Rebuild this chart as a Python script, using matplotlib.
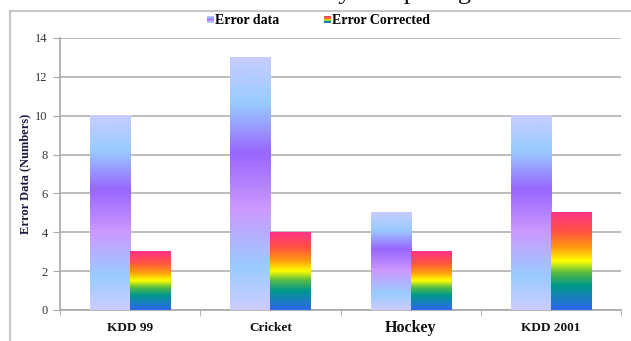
import numpy as np
import matplotlib
matplotlib.use("Agg")
import matplotlib.pyplot as plt
from matplotlib.colors import LinearSegmentedColormap
from matplotlib.legend_handler import HandlerBase
from matplotlib.patches import Rectangle
from matplotlib.lines import Line2D

categories = ["KDD 99", "Cricket", "Hockey", "KDD 2001"]
error_data = [10, 13, 5, 10]
error_corrected = [3, 4, 3, 5]
series_names = ["Error data", "Error Corrected"]
y_ticks = [0, 2, 4, 6, 8, 10, 12, 14]

data_cmap = LinearSegmentedColormap.from_list("data", [
    (0.0, "#ccccff"), (0.17, "#99ccff"), (0.40, "#cc99ff"),
    (0.62, "#9966ff"), (0.82, "#99ccff"), (1.0, "#c8ccff")])
corr_cmap = LinearSegmentedColormap.from_list("corr", [
    (0.0, "#2f66ee"), (0.25, "#00998a"), (0.38, "#55bb44"), (0.5, "#ffff00"),
    (0.64, "#ff9911"), (0.8, "#ff5540"), (1.0, "#ff3388")])

W, H = 631, 341
fig = plt.figure(figsize=(W / 100, H / 100), dpi=100)
ax = fig.add_axes([60 / W, 1 - 310 / H, (621 - 60) / W, (310 - 38) / H])

serif = ["Liberation Serif", "DejaVu Serif"]

x = np.arange(len(categories))
bw = 40 / 140
b1 = ax.bar(x - bw / 2, error_data, bw, color="none", zorder=3)
b2 = ax.bar(x + bw / 2, error_corrected, bw, color="none", zorder=3)

grad = np.linspace(0, 1, 256).reshape(-1, 1)
for bars, cmap in ((b1, data_cmap), (b2, corr_cmap)):
    for p in bars:
        x0, y0 = p.get_x(), p.get_y()
        ax.imshow(grad, cmap=cmap, origin="lower", aspect="auto",
                  extent=(x0, x0 + p.get_width(), y0, y0 + p.get_height()),
                  zorder=3, interpolation="bilinear")

ax.set_xlim(-0.5, len(categories) - 0.5)
ax.set_ylim(0, 14)
ax.set_yticks(y_ticks)
ax.set_yticklabels([str(t) for t in y_ticks], fontfamily=serif, fontsize=9, color="#333333")
ax.yaxis.grid(True, color="#bdbdbd", linewidth=1.4, zorder=0)
ax.set_axisbelow(True)
for s in ["top", "right"]:
    ax.spines[s].set_visible(False)
ax.spines["left"].set_color("#a8a8a8")
ax.spines["bottom"].set_color("#a8a8a8")
ax.spines["left"].set_linewidth(1.2)
ax.spines["bottom"].set_linewidth(1.2)
ax.tick_params(axis="y", length=5, color="#a8a8a8", pad=4)
ax.set_xticks(x)
ax.set_xticklabels([])
ax.tick_params(axis="x", length=0)
ax.set_xticks(np.arange(len(categories) + 1) - 0.5, minor=True)
ax.tick_params(axis="x", which="minor", length=4, color="#a8a8a8")
for i, c in enumerate(categories):
    fs = 11.5 if c == "Hockey" else 9.5
    ax.text(i, -0.95, c, ha="center", va="center", fontfamily=serif,
            fontweight="bold", fontsize=fs, color="#111111",
            transform=ax.transData)

ax.set_ylabel("Error Data (Numbers)", fontfamily=serif, fontweight="bold",
              fontsize=9, color="#1a1a40")
ax.yaxis.set_label_coords((31 - 60) / 561, 0.5)


class GradHandler(HandlerBase):
    def __init__(self, cmap):
        super().__init__()
        self.cmap = cmap

    def create_artists(self, legend, orig, xd, yd, w, h, fs, trans):
        arts = []
        n = 6
        s = h * 0.7
        x0 = xd + w - s
        y0 = yd + (h - s) / 2
        for k in range(n):
            r = Rectangle((x0, y0 + k * s / n), s, s / n,
                          facecolor=self.cmap((k + 0.5) / n), edgecolor="none",
                          transform=trans)
            arts.append(r)
        return arts


h1 = Rectangle((0, 0), 1, 1)
h2 = Rectangle((0, 0), 1, 1)
fig.legend([h1, h2], series_names, loc="center", bbox_to_anchor=(317 / W, 1 - 21 / H),
           ncol=2, frameon=False, handler_map={h1: GradHandler(data_cmap), h2: GradHandler(corr_cmap)},
           prop={"family": serif, "weight": "bold", "size": 10}, handlelength=0.7,
           handletextpad=0.1, columnspacing=3.0, borderpad=0)

# outer frame lines
fig.add_artist(Line2D([10 / W, 10 / W], [0, 1 - 11 / H], transform=fig.transFigure,
                      color="#c8c8c8", linewidth=1.5))
fig.add_artist(Line2D([10 / W, 1], [1 - 11 / H, 1 - 11 / H], transform=fig.transFigure,
                      color="#c8c8c8", linewidth=1.5))

# title, cut off at the top edge as in the reference
fig.text(398 / W, 1 + 1 / H, "by comparing", ha="center", va="baseline",
         fontfamily=serif, fontsize=19, color="#111111")

fig.savefig("out.png", dpi=100)
